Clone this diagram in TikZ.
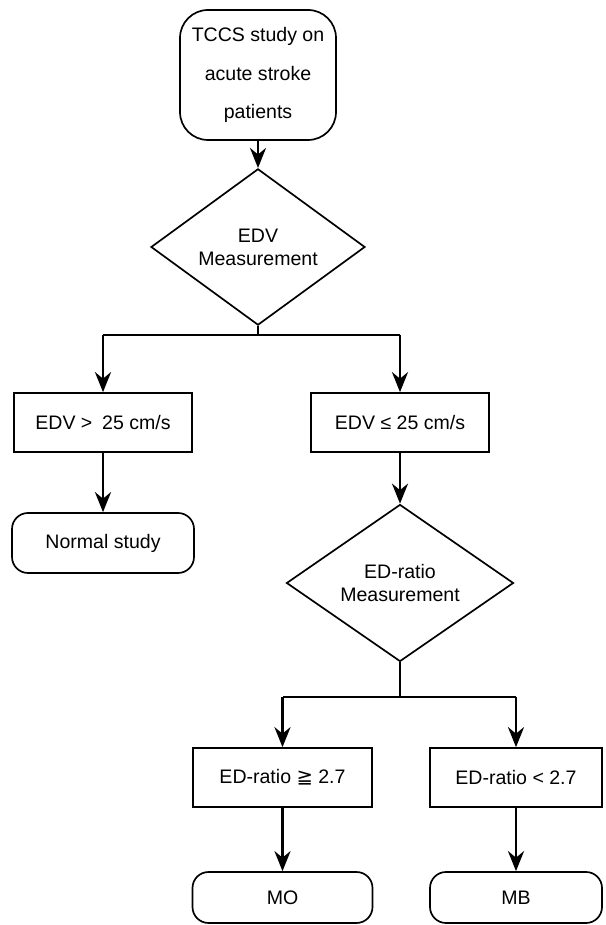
\documentclass[tikz,border=0pt]{standalone}
\usepackage{fontspec}
\setmainfont{Liberation Sans}
\newfontfamily\symfont{DejaVu Sans}
\usetikzlibrary{arrows.meta,shapes.geometric}
\definecolor{tinte}{HTML}{000000}
\tikzset{
  pfeil/.style={-{Stealth[length=5mm,width=4mm]},tinte,line width=2pt},
  linie/.style={tinte,line width=1.4pt},
  kasten/.style={draw=tinte,rectangle,line width=1.2pt,inner sep=0pt,align=center},
  rund/.style={kasten,rounded corners=4mm},
  raute/.style={draw=tinte,diamond,line width=1.2pt,inner sep=0pt,align=center},
}

\begin{document}
\begin{tikzpicture}[font=\fontsize{13.9}{16.5}\selectfont]
  \useasboundingbox (0,0) rectangle (15.125,23.125);
  % oben
  \node[rund,rounded corners=7mm,minimum width=3.9cm,minimum height=3.25cm,
        font=\fontsize{13.9}{27.4}\selectfont] (start) at (6.45,21.25)
        {TCCS study on\\acute stroke\\patients};
  \node[raute,minimum width=5.35cm,minimum height=2.875cm] (edv) at (6.45,16.95)
        {EDV\\Measurement};
  \coordinate (gabel1) at (6.45,14.75);
  % linker Zweig
  \node[kasten,minimum width=4.45cm,minimum height=1.475cm] (gross) at (2.575,12.5625)
        {EDV >\enspace 25 cm/s};
  \node[rund,minimum width=4.55cm,minimum height=1.5cm] (normal) at (2.575,9.55)
        {Normal study};
  % rechter Zweig
  \node[kasten,minimum width=4.45cm,minimum height=1.475cm] (klein) at (10.0,12.5625)
        {EDV ≤ 25 cm/s};
  \node[raute,minimum width=5.675cm,minimum height=3.075cm] (ratio) at (10.0,8.55)
        {ED-ratio\\Measurement};
  \coordinate (gabel2) at (10.0,5.7);
  \node[kasten,minimum width=4.475cm,minimum height=1.475cm] (hoch) at (7.0625,3.6875)
        {ED-ratio {\symfont ≧} 2.7};
  \node[kasten,minimum width=4.3cm,minimum height=1.475cm] (tief) at (12.9,3.6875)
        {ED-ratio < 2.7};
  \node[rund,minimum width=4.5cm,minimum height=1.275cm] (mo) at (7.0625,0.6875) {MO};
  \node[rund,minimum width=4.3cm,minimum height=1.275cm] (mb) at (12.9,0.6875) {MB};
  % Verbindungen
  \draw[pfeil] (start) -- (edv);
  \draw[linie,line width=2pt] (edv.south) -- (gabel1);
  \draw[linie] (gabel1 -| gross) -- (gabel1 -| klein);
  \draw[pfeil] (gabel1 -| gross) -- (gross);
  \draw[pfeil] (gabel1 -| klein) -- (klein);
  \draw[pfeil] (gross) -- (normal);
  \draw[pfeil] (klein) -- (ratio);
  \draw[linie,line width=2pt] (ratio.south) -- (gabel2);
  \draw[linie] (gabel2 -| hoch) -- (gabel2 -| tief);
  \draw[pfeil] (gabel2 -| hoch) -- (hoch);
  \draw[pfeil] (gabel2 -| tief) -- (tief);
  \draw[pfeil] (hoch) -- (mo);
  \draw[pfeil] (tief) -- (mb);
\end{tikzpicture}
\end{document}
